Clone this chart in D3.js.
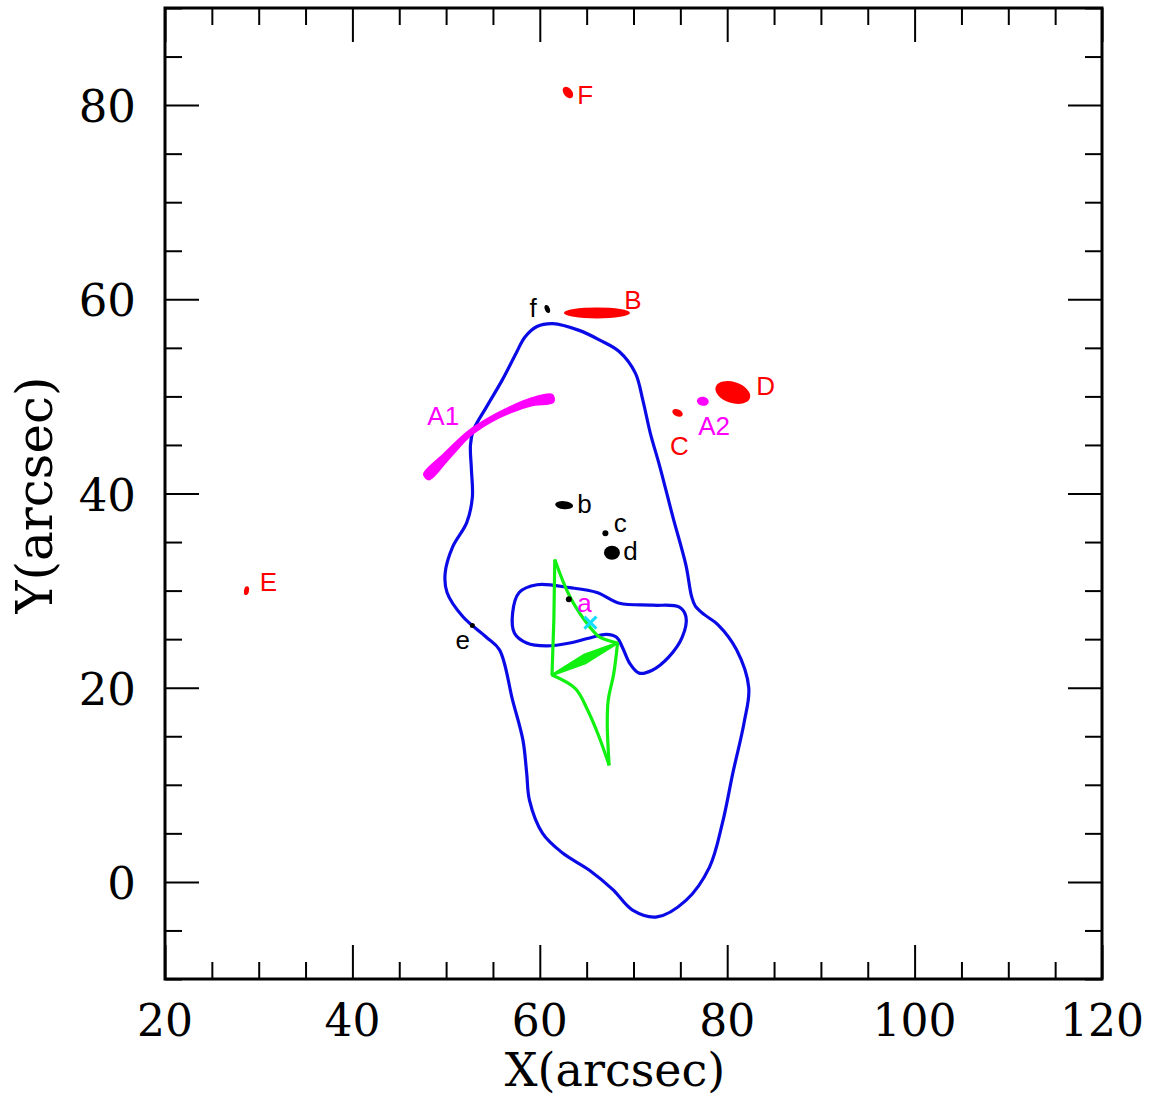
<!DOCTYPE html>
<html>
<head>
<meta charset="utf-8">
<script src="https://cdn.jsdelivr.net/npm/d3@7"></script>
<style>
  html, body { margin: 0; padding: 0; background: #fff; }
  svg { display: block; }
</style>
</head>
<body>
<svg id="chart" width="1150" height="1099"></svg>
<script>
// ---------------- DATA ----------------
const xDomain = [20, 120];
const yDomain = [-10, 90];
const xMajorTicks = [20, 40, 60, 80, 100, 120];
const yMajorTicks = [0, 20, 40, 60, 80];
const xTitle = "X(arcsec)";
const yTitle = "Y(arcsec)";

// outer critical curve (closed)
const outerCurve = [
  [61.4,57.5],[64.2,56.8],[66.4,55.8],[68.5,54.6],[70.2,52.4],[71.0,49.6],[71.8,46.2],
  [72.8,42.8],[74.2,37.6],[75.6,32.6],[76.2,29.4],[76.6,28.4],[77.6,27.5],[79.0,26.5],
  [81.0,23.9],[82.3,20.0],[81.8,16.4],[80.6,11.2],[79.5,6.1],[78.1,1.5],[75.6,-1.9],
  [72.5,-3.6],[69.9,-2.9],[67.8,-0.8],[65.3,1.2],[62.4,3.0],[60.3,5.0],[58.9,8.4],
  [58.6,11.2],[58.2,14.6],[57.1,18.7],[55.7,23.9],[54.3,25.2],[51.8,27.3],[50.1,29.8],
  [49.9,31.8],[50.7,34.5],[52.2,37.0],[52.8,39.6],[52.7,42.5],[52.6,45.0],[52.9,46.5],
  [54.3,48.9],[56.0,51.7],[57.5,54.5],[58.4,56.1],[59.7,57.2]
];

// inner critical curve (closed)
const innerCurve = [
  [57.1,27.7],[57.8,29.8],[59.7,30.6],[63.2,30.3],[66.1,29.8],[68.5,28.7],[72.0,28.5],
  [74.9,28.3],[75.6,27.3],[75.2,25.2],[73.8,23.2],[72.0,21.8],[70.6,21.5],[69.6,22.5],
  [68.8,24.2],[68.2,25.2],[67.1,25.5],[65.6,25.2],[63.2,24.6],[60.7,24.3],[58.6,24.6],
  [57.3,25.6]
];

// caustic edges
const causticTopRight    = [[61.6,33.2],[63.2,29.4],[65.3,26.3],[66.4,25.2],[68.3,24.6]];
const causticRightBottom = [[68.3,24.6],[67.9,21.5],[67.3,18.7],[67.2,16.3],[67.4,12.0]];
const causticBottomLeft  = [[67.4,12.0],[66.3,15.0],[65.1,17.7],[63.8,19.9],[61.3,21.3]];
const causticLeftTop     = [[61.3,21.3],[61.5,27.0],[61.6,33.2]];
const causticWedge       = [[61.3,21.3],[64.8,23.4],[68.3,24.6],[64.8,22.5]];

// arc image A1 (centerline)
const arcA1 = [[47.9,41.7],[50.0,43.8],[52.5,46.2],[54.7,47.6],[56.8,48.6],[59.0,49.4],[61.4,49.8]];

// images (blobs)
const redImages     = ["F","B","D","C","E"];
const redX          = [63.0, 66.1, 80.6, 74.7, 28.7];
const redY          = [81.3, 58.6, 50.4, 48.3, 30.0];
const magentaImages = ["A2"];
const magentaX      = [77.4];
const magentaY      = [49.5];
const blackImages   = ["a","b","c","d","e","f"];
const blackX        = [63.1, 62.6, 67.0, 67.7, 52.8, 60.8];
const blackY        = [29.1, 38.8, 35.9, 33.9, 26.4, 59.0];

// source position (cyan cross)
const sourceX = [65.4];
const sourceY = [26.7];

// labels
const labelText  = ["F","B","D","A2","C","A1","E","f","b","c","d","a","e"];
const labelX     = [64.0, 69.0, 83.1, 76.9, 73.9, 48.0, 30.1, 58.9, 64.0, 67.9, 68.9, 64.0, 51.0];
const labelY     = [80.1, 59.0, 50.1, 46.0, 44.0, 47.1, 30.0, 58.2, 38.0, 36.0, 33.1, 27.8, 24.0];
const labelColor = ["red","red","red","magenta","red","magenta","red","black","black","black","black","magenta","black"];

// ---------------- STYLE ----------------
const colors = { red: "#ff0000", magenta: "#ff00ff", black: "#000000", blue: "#0a0ae6", green: "#11f011", cyan: "#11ddff" };
const blobShape = {
  F: [6.5, 4.2, 50], B: [33, 5.5, 0], D: [18, 10.5, 18], C: [5.5, 3.5, 25], E: [2.5, 4.5, 10],
  A2: [6, 4.5, 10],
  a: [3, 3, 0], b: [9, 4, 5], c: [3, 3, 0], d: [8, 7, 0], e: [2.5, 2.5, 0], f: [2.5, 4.2, -20]
};

// ---------------- CHART ----------------
const svg = d3.select("#chart");
const L = 165, R = 1102, T = 8, B = 979;
const x = d3.scaleLinear().domain(xDomain).range([L, R]);
const y = d3.scaleLinear().domain(yDomain).range([B, T]);

const xMinor = d3.range(20, 121, 5);
const yMinor = d3.range(-10, 91, 5);
function tickLen(v, majors) { return majors.includes(v) ? 34 : 17; }

const axisG = svg.append("g");
// bottom
const bAx = axisG.append("g").attr("transform", `translate(0,${B})`)
  .call(d3.axisBottom(x).tickValues(xMinor).tickSize(0).tickFormat(""));
bAx.select(".domain").remove();
bAx.selectAll(".tick line").attr("y2", d => -tickLen(d, xMajorTicks)).attr("stroke", "#000").attr("stroke-width", 2);
// top
const tAx = axisG.append("g").attr("transform", `translate(0,${T})`)
  .call(d3.axisTop(x).tickValues(xMinor).tickSize(0).tickFormat(""));
tAx.select(".domain").remove();
tAx.selectAll(".tick line").attr("y2", d => tickLen(d, xMajorTicks)).attr("stroke", "#000").attr("stroke-width", 2);
// left
const lAx = axisG.append("g").attr("transform", `translate(${L},0)`)
  .call(d3.axisLeft(y).tickValues(yMinor).tickSize(0).tickFormat(""));
lAx.select(".domain").remove();
lAx.selectAll(".tick line").attr("x2", d => tickLen(d, yMajorTicks)).attr("stroke", "#000").attr("stroke-width", 2);
// right
const rAx = axisG.append("g").attr("transform", `translate(${R},0)`)
  .call(d3.axisRight(y).tickValues(yMinor).tickSize(0).tickFormat(""));
rAx.select(".domain").remove();
rAx.selectAll(".tick line").attr("x2", d => -tickLen(d, yMajorTicks)).attr("stroke", "#000").attr("stroke-width", 2);

// frame
svg.append("rect").attr("x", L).attr("y", T).attr("width", R - L).attr("height", B - T)
  .attr("fill", "none").attr("stroke", "#000").attr("stroke-width", 3);

// tick labels
const tickFont = "'DejaVu Serif', serif";
svg.append("g").selectAll("text").data(xMajorTicks).join("text")
  .attr("x", d => x(d)).attr("y", 1036).attr("text-anchor", "middle")
  .attr("font-family", tickFont).attr("font-size", 44).attr("fill", "#000").text(d => d);
svg.append("g").selectAll("text").data(yMajorTicks).join("text")
  .attr("x", 136).attr("y", d => y(d) + 17).attr("text-anchor", "end")
  .attr("font-family", tickFont).attr("font-size", 45).attr("fill", "#000").text(d => d);

// axis titles
svg.append("text").attr("x", 615).attr("y", 1086).attr("text-anchor", "middle")
  .attr("font-family", tickFont).attr("font-size", 46).attr("fill", "#000").text(xTitle);
svg.append("text").attr("transform", "translate(52,495) rotate(-90)").attr("text-anchor", "middle")
  .attr("font-family", tickFont).attr("font-size", 50).attr("fill", "#000").text(yTitle);

// plot content
const plot = svg.append("g");
const lineClosed = d3.line().x(d => x(d[0])).y(d => y(d[1])).curve(d3.curveCatmullRomClosed.alpha(0.5));
const lineOpen = d3.line().x(d => x(d[0])).y(d => y(d[1])).curve(d3.curveCatmullRom.alpha(0.5));
const lineStraight = d3.line().x(d => x(d[0])).y(d => y(d[1]));

plot.append("path").attr("d", lineClosed(outerCurve)).attr("fill", "none")
  .attr("stroke", colors.blue).attr("stroke-width", 3.2);
plot.append("path").attr("d", lineClosed(innerCurve)).attr("fill", "none")
  .attr("stroke", colors.blue).attr("stroke-width", 3.2);

// caustic
[causticTopRight, causticRightBottom, causticBottomLeft].forEach(seg => {
  plot.append("path").attr("d", lineOpen(seg)).attr("fill", "none")
    .attr("stroke", colors.green).attr("stroke-width", 3.2).attr("stroke-linejoin", "round");
});
plot.append("path").attr("d", lineStraight(causticLeftTop)).attr("fill", "none")
  .attr("stroke", colors.green).attr("stroke-width", 3.2);
plot.append("path").attr("d", lineStraight(causticWedge) + "Z").attr("fill", colors.green)
  .attr("stroke", colors.green).attr("stroke-width", 2.5).attr("stroke-linejoin", "round");

// arc A1 as variable-width ribbon
(function () {
  const halfW = [3.8, 3.6, 2.6, 2.4, 2.8, 3.6, 3.8];
  const pts = arcA1.map(d => [x(d[0]), y(d[1])]);
  const left = [], right = [];
  pts.forEach((p, i) => {
    const a = pts[Math.max(0, i - 1)], b = pts[Math.min(pts.length - 1, i + 1)];
    let dx = b[0] - a[0], dy = b[1] - a[1];
    const n = Math.hypot(dx, dy); dx /= n; dy /= n;
    left.push([p[0] - dy * halfW[i], p[1] + dx * halfW[i]]);
    right.push([p[0] + dy * halfW[i], p[1] - dx * halfW[i]]);
  });
  const poly = left.concat(right.reverse());
  plot.append("path")
    .attr("d", d3.line().curve(d3.curveCatmullRomClosed)(poly))
    .attr("fill", colors.magenta).attr("stroke", colors.magenta).attr("stroke-width", 1.5);
})();

// blobs
function drawBlobs(names, xs, ys, color) {
  plot.append("g").selectAll("ellipse").data(names).join("ellipse")
    .attr("cx", 0).attr("cy", 0)
    .attr("rx", d => blobShape[d][0]).attr("ry", d => blobShape[d][1])
    .attr("transform", (d, i) => `translate(${x(xs[i])},${y(ys[i])}) rotate(${blobShape[d][2]})`)
    .attr("fill", color);
}
drawBlobs(redImages, redX, redY, colors.red);
drawBlobs(magentaImages, magentaX, magentaY, colors.magenta);
drawBlobs(blackImages, blackX, blackY, colors.black);

// source cross
sourceX.forEach((sx, i) => {
  const cx = x(sx), cy = y(sourceY[i]), s = 6;
  plot.append("path").attr("d", `M${cx - s},${cy - s}L${cx + s},${cy + s}M${cx - s},${cy + s}L${cx + s},${cy - s}`)
    .attr("stroke", colors.cyan).attr("stroke-width", 3);
});

// labels
plot.append("g").selectAll("text").data(labelText).join("text")
  .attr("x", (d, i) => x(labelX[i])).attr("y", (d, i) => y(labelY[i]))
  .attr("font-family", "'Liberation Sans', Arial, sans-serif").attr("font-size", 26)
  .attr("fill", (d, i) => colors[labelColor[i]]).text(d => d);
</script>
</body>
</html>
